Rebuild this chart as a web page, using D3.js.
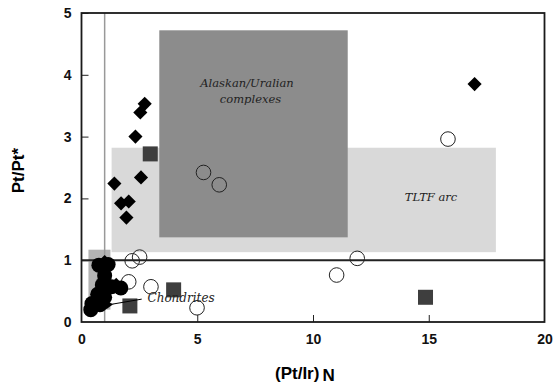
<!DOCTYPE html>
<html>
<head>
<meta charset="utf-8">
<script src="https://cdn.jsdelivr.net/npm/d3@7"></script>
<style>
  body { margin: 0; background: #fff; }
  svg { display: block; }
</style>
</head>
<body>
<svg id="chart" width="553" height="390"></svg>
<script>
// field boxes: [x0, x1, y0, y1]
const fieldNames = ['TLTF arc', 'Alaskan/Uralian complexes', 'Chondrites'];
const fieldBoxes = [
  [1.3, 17.9, 1.13, 2.82],
  [3.36, 11.5, 1.37, 4.72],
  [0.3, 1.25, 0.2, 1.17]
];

// solid diamonds
const diamondX = [2.73, 2.54, 2.33, 2.57, 1.42, 1.71, 2.04, 1.94, 16.98, 1.0, 1.5];
const diamondY = [3.53, 3.39, 3.0, 2.34, 2.24, 1.92, 1.95, 1.69, 3.85, 0.97, 0.6];

// solid circles (cluster near chondrites)
const dotX = [0.75, 1.15, 1.0, 1.3, 1.7, 0.7, 0.45, 0.8, 0.4, 1.0, 0.9];
const dotY = [0.92, 0.93, 0.75, 0.57, 0.55, 0.45, 0.3, 0.28, 0.2, 0.4, 0.6];

// open circles
const ringX = [2.19, 2.51, 2.04, 3.0, 4.99, 5.27, 5.95, 15.83, 11.91, 11.02];
const ringY = [0.99, 1.05, 0.65, 0.57, 0.23, 2.42, 2.22, 2.96, 1.03, 0.76];

// grey squares
const squareX = [2.97, 3.98, 2.09, 14.86];
const squareY = [2.72, 0.52, 0.26, 0.40];

const xTicks = [0, 5, 10, 15, 20];
const yTicks = [0, 1, 2, 3, 4, 5];

const svg = d3.select('#chart');
const x = d3.scaleLinear().domain([0, 20]).range([81.5, 544.5]);
const y = d3.scaleLinear().domain([0, 5]).range([322, 13]);

// fields
const fieldFill = ['#d9d9d9', '#8c8c8c', '#b4b4b4'];
svg.selectAll('rect.field')
  .data(fieldBoxes)
  .join('rect')
  .attr('class', 'field')
  .attr('x', d => x(d[0]))
  .attr('y', d => y(d[3]))
  .attr('width', d => x(d[1]) - x(d[0]))
  .attr('height', d => y(d[2]) - y(d[3]))
  .attr('fill', (d, i) => fieldFill[i]);

// reference lines
svg.append('line')
  .attr('x1', x(1)).attr('x2', x(1))
  .attr('y1', y(5)).attr('y2', y(0))
  .attr('stroke', '#999').attr('stroke-width', 1.5);
svg.append('line')
  .attr('x1', x(0)).attr('x2', x(20))
  .attr('y1', y(1)).attr('y2', y(1))
  .attr('stroke', '#222').attr('stroke-width', 2);

// axes (inward ticks)
const xAxis = d3.axisBottom(x).tickValues(xTicks).tickFormat(d3.format('d'))
  .tickSize(-7).tickPadding(12);
const yAxis = d3.axisLeft(y).tickValues(yTicks).tickFormat(d3.format('d'))
  .tickSize(-7).tickPadding(10);

svg.append('g').attr('transform', `translate(0,${y(0)})`).call(xAxis)
  .call(g => g.select('.domain').remove());
svg.append('g').attr('transform', `translate(${x(0)},0)`).call(yAxis)
  .call(g => g.select('.domain').remove());
svg.selectAll('.tick text')
  .attr('font-family', 'Liberation Sans, Arial, sans-serif')
  .attr('font-weight', 'bold')
  .attr('font-size', 14)
  .attr('fill', '#111');
svg.selectAll('.tick line').attr('stroke', '#222').attr('stroke-width', 1);
svg.selectAll('.tick').filter(d => d === 0 || d === 20).select('line').remove();

// frame
svg.append('rect')
  .attr('x', x(0)).attr('y', y(5))
  .attr('width', x(20) - x(0)).attr('height', y(0) - y(5))
  .attr('fill', 'none').attr('stroke', '#1a1a1a').attr('stroke-width', 1.8);

// field labels
const serif = 'DejaVu Serif, Liberation Serif, serif';
svg.append('text').attr('x', x(7.15)).attr('y', y(3.8))
  .attr('text-anchor', 'middle').attr('font-family', serif)
  .attr('font-style', 'italic').attr('font-size', 11.5).attr('fill', '#222')
  .text('Alaskan/Uralian');
svg.append('text').attr('x', x(7.3)).attr('y', y(3.55))
  .attr('text-anchor', 'middle').attr('font-family', serif)
  .attr('font-style', 'italic').attr('font-size', 11.5).attr('fill', '#222')
  .text('complexes');
svg.append('text').attr('x', x(15.1)).attr('y', y(1.95))
  .attr('text-anchor', 'middle').attr('font-family', serif)
  .attr('font-style', 'italic').attr('font-size', 11.5).attr('fill', '#222')
  .text(fieldNames[0]);

// squares
svg.selectAll('rect.sq')
  .data(squareX)
  .join('rect')
  .attr('class', 'sq')
  .attr('x', d => x(d) - 7.5)
  .attr('y', (d, i) => y(squareY[i]) - 7.5)
  .attr('width', 15).attr('height', 15)
  .attr('fill', '#3e3e3e');

// open circles
svg.selectAll('circle.ring')
  .data(ringX)
  .join('circle')
  .attr('class', 'ring')
  .attr('cx', d => x(d))
  .attr('cy', (d, i) => y(ringY[i]))
  .attr('r', 7.3)
  .attr('fill', 'none')
  .attr('stroke', '#222').attr('stroke-width', 1);

// solid circles
svg.selectAll('circle.dot')
  .data(dotX)
  .join('circle')
  .attr('class', 'dot')
  .attr('cx', d => x(d))
  .attr('cy', (d, i) => y(dotY[i]))
  .attr('r', 7.5)
  .attr('fill', '#000');

// diamonds
const diamond = d3.symbol().type(d3.symbolSquare).size(100);
svg.selectAll('path.dia')
  .data(diamondX)
  .join('path')
  .attr('class', 'dia')
  .attr('transform', (d, i) => `translate(${x(d)},${y(diamondY[i])}) rotate(45)`)
  .attr('d', diamond)
  .attr('fill', '#000');

// chondrite label with arrow
svg.append('defs').append('marker')
  .attr('id', 'arr').attr('viewBox', '0 0 10 10')
  .attr('refX', 1).attr('refY', 5)
  .attr('markerWidth', 10).attr('markerHeight', 8)
  .attr('orient', 'auto')
  .append('path').attr('d', 'M10,0 L0,5 L10,10 Z').attr('fill', '#000');
svg.append('line')
  .attr('x1', x(2.6)).attr('y1', y(0.37))
  .attr('x2', x(1.35)).attr('y2', y(0.29))
  .attr('stroke', '#000').attr('stroke-width', 1)
  .attr('marker-end', 'url(#arr)');
svg.append('text').attr('x', x(2.85)).attr('y', y(0.33))
  .attr('font-family', serif).attr('font-style', 'italic')
  .attr('font-size', 12).attr('fill', '#222')
  .text(fieldNames[2]);

// axis titles
svg.append('text')
  .attr('transform', `translate(24,${y(2.45)}) rotate(-90)`)
  .attr('text-anchor', 'middle')
  .attr('font-family', 'Liberation Sans, Arial, sans-serif')
  .attr('font-weight', 'bold').attr('font-size', 17)
  .text('Pt/Pt*');
const xt = svg.append('text')
  .attr('x', 275).attr('y', 379)
  .attr('font-family', 'Liberation Sans, Arial, sans-serif')
  .attr('font-weight', 'bold').attr('font-size', 17);
xt.append('tspan').text('(Pt/Ir)');
xt.append('tspan').attr('dx', 3).attr('dy', 2).text('N');
</script>
</body>
</html>
